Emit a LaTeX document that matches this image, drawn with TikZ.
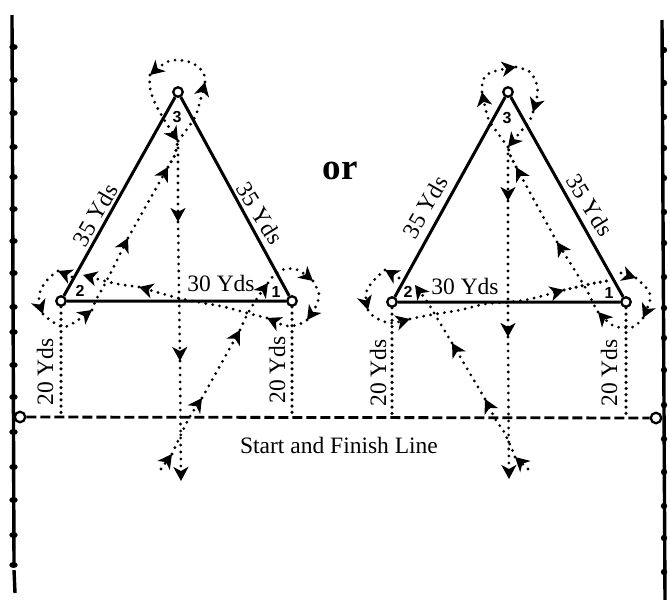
\documentclass[tikz,border=0pt]{standalone}
\usepackage{fontspec}
\setmainfont{Liberation Serif}
\newfontfamily\numfont{Liberation Sans}
\usetikzlibrary{arrows.meta}
\tikzset{
  vertexnode/.style={circle,draw=black,fill=white,line width=2.3pt,minimum size=9.5pt,inner sep=0pt},
  sidelabel/.style={inner sep=0pt,font=\fontsize{23.5}{25}\selectfont},
  numlabel/.style={inner sep=0pt,font=\numfont\bfseries\fontsize{16}{17}\selectfont},
  edgeline/.style={line width=3pt,black},
  startline/.style={line width=2.8pt,dash pattern=on 10pt off 4pt},
  dotpath/.style={line width=3.1pt,line cap=round,dash pattern=on 0pt off 7pt,
     -{Stealth[length=14pt,width=15pt,inset=4pt]}},
  plaindots/.style={line width=3.5pt,line cap=round,dash pattern=on 0pt off 6.2pt},
  fieldline/.style={line width=3.4pt},
  fieldtick/.style={fill=black}
}
\newcommand{\route}[1]{\draw[dotpath] plot[smooth,tension=0.55] coordinates {#1};}
\begin{document}
\begin{tikzpicture}[x=1pt,y=-1pt]
\useasboundingbox (0,0) rectangle (670,600);
% field lines
\draw[fieldline] (12,15) -- (14,565);
\draw[fieldline] (14,570) -- (15,593);
\foreach \y in {47,80,113,147,177,209,241,273,307,332,365,397,432,467,500,535,565}
  \fill[fieldtick] (13.5,\y) ellipse (4.2pt and 3pt);
\draw[fieldline] (662,20) -- (665,600);
\foreach \y in {50,83,117,148,178,212,243,277,308,338,370,405,439,472,506,538,572}
  \fill[fieldtick] (664,\y) circle (3.2pt);
% named points
\coordinate (Lj) at (178,141);
\coordinate (Rj) at (508,147);
\coordinate (La) at (61,417);
\coordinate (Lc) at (292,417);
\coordinate (Ra) at (392,418);
\coordinate (Rc) at (626,418);
% start line
\node[vertexnode,minimum size=10.5pt] (S1) at (20,417) {};
\node[vertexnode,minimum size=10.5pt] (S2) at (656,418) {};
\draw[startline] (S1) -- (S2);
% left triangle
\node[vertexnode] (L3) at (178,92) {};
\node[vertexnode] (L2) at (61,301) {};
\node[vertexnode] (L1) at (292,301) {};
\draw[edgeline] (L3) -- (L2) -- (L1) -- (L3);
\draw[plaindots] (L2) -- (La);
\draw[plaindots] (L1) -- (Lc);
% right triangle
\node[vertexnode] (R3) at (508,92) {};
\node[vertexnode] (R2) at (392,302) {};
\node[vertexnode] (R1) at (626,302) {};
\draw[edgeline] (R3) -- (R2) -- (R1) -- (R3);
\draw[plaindots] (R2) -- (Ra);
\draw[plaindots] (R1) -- (Rc);
% left route
\route{(161,469) (172,454)}
\route{(172,454) (188,420) (202,398)}
\route{(202,398) (240,330)}
\route{(240,330) (247,315) (256,300) (268,283)}
\route{(268,283) (275,274) (285,269) (298,270) (313,281)}
\route{(313,281) (319,294) (316,306) (307,320)}
\route{(307,320) (300,324) (292,326) (283,325) (267,318)}
\route{(267,318) (247,313) (225,307) (203,303) (178,298) (139,287)}
\route{(139,287) (118,284) (105,281) (83,275)}
\route{(72,277) (58,271)}
\route{(58,271) (49,278) (41,289) (39,300) (43,314)}
\route{(43,314) (50,320) (63,327) (75,322) (92,310)}
\route{(92,310) (96,300) (107,280) (128,238)}
\route{(128,238) (168,167)}
\draw[plaindots] (168,167) -- (175,155) -- (Lj);
\route{(Lj) (190,125) (197,112) (205,82)}
\route{(205,82) (203,72) (192,63) (177,60) (165,63) (150,75)}
\route{(150,75) (150,88) (155,103) (165,121) (Lj)}
\route{(Lj) (178,222)}
\route{(178,222) (180,361)}
\route{(180,361) (181,481)}
% right route
\route{(528,469) (515,457)}
\route{(515,457) (511,447) (503,430) (497,422) (485,399)}
\route{(485,399) (452,343)}
\route{(452,343) (437,318) (428,303) (415,285)}
\route{(399,278) (385,270)}
\route{(385,270) (375,279) (367,290) (366,300) (368,310)}
\route{(368,310) (372,315) (380,320) (392,323) (410,319)}
\route{(410,319) (430,315) (460,310) (485,304) (510,302) (530,299) (564,290)}
\draw[plaindots] (564,290) -- (590,284) -- (612,280);
\route{(621,273) (636,278)}
\route{(636,278) (648,290) (650,300) (643,318)}
\route{(643,318) (633,327) (617,327) (608,322) (598,312)}
\route{(598,312) (593,303) (585,287) (557,242)}
\route{(557,242) (516,167)}
\draw[plaindots] (516,167) -- (510,155) -- (Rj);
\route{(Rj) (497,132) (488,118) (482,92)}
\route{(482,92) (483,80) (492,72) (516,67)}
\route{(516,67) (530,72) (537,85) (537,97) (533,112)}
\route{(533,112) (530,120) (522,130) (Rj)}
\route{(Rj) (508,201)}
\route{(508,201) (508,337)}
\route{(508,337) (509,479)}
% labels
\node[inner sep=0pt,font=\bfseries\fontsize{37}{40}\selectfont] (orlabel) at (340,171) {or};
\node[sidelabel,rotate=60] (t1) at (95,215) {35 Yds};
\node[sidelabel,rotate=-58] (t2) at (260,213) {35 Yds};
\node[sidelabel] (t3) at (221,283) {30 Yds};
\node[sidelabel,rotate=90] (t4) at (45,372) {20 Yds};
\node[sidelabel,rotate=90] (t5) at (277,370) {20 Yds};
\node[sidelabel,rotate=60] (t6) at (425,207) {35 Yds};
\node[sidelabel,rotate=-58] (t7) at (590,205) {35 Yds};
\node[sidelabel] (t8) at (465,286) {30 Yds};
\node[sidelabel,rotate=90] (t9) at (378,373) {20 Yds};
\node[sidelabel,rotate=90] (t10) at (609,373) {20 Yds};
\node[sidelabel] (t11) at (339,445) {Start and Finish Line};
\node[numlabel] (n3) at (177,117) {3};
\node[numlabel] (n2) at (80,291) {2};
\node[numlabel] (n1) at (276,292) {1};
\node[numlabel] (m3) at (507,118) {3};
\node[numlabel] (m2) at (408,292) {2};
\node[numlabel] (m1) at (609,293) {1};
\end{tikzpicture}
\end{document}
